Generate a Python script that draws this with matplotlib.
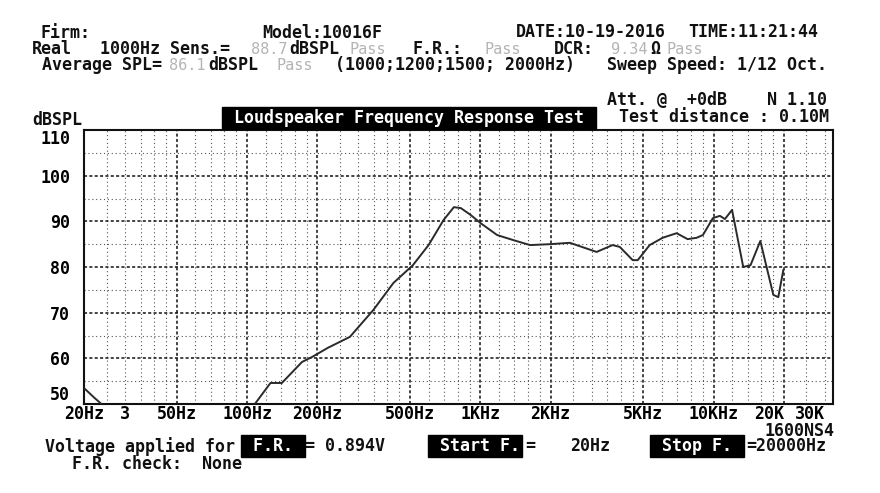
import numpy as np
import matplotlib.pyplot as plt

# frequency response (Hz, dBSPL)
freq = [20, 22, 24, 30, 40, 60, 80, 100, 108, 126, 141, 172, 190, 222, 276,
        348, 424, 514, 600, 696, 770, 825, 909, 1003, 1180, 1383, 1635, 1989,
        2420, 3150, 3690, 3960, 4500, 4730, 5320, 6050, 6940, 7740, 8460, 9000,
        9930, 10640, 11180, 12000, 13400, 14400, 15860, 18030, 18940, 19900]
spl = [53.5, 51.5, 49.8, 48.5, 48, 47.5, 47.5, 48.5, 50, 54.6, 54.6, 59.2,
       60.3, 62.3, 64.7, 70.6, 76.5, 80.4, 84.8, 90.3, 93.1, 92.9, 91.4, 89.6,
       87.0, 85.9, 84.8, 85.0, 85.3, 83.3, 84.8, 84.4, 81.5, 81.5, 84.8, 86.4,
       87.4, 86.1, 86.4, 87.0, 90.7, 91.2, 90.5, 92.5, 80.0, 80.4, 85.7, 73.9,
       73.4, 79.3]

xticks = [20, 30, 50, 100, 200, 500, 1000, 2000, 5000, 10000, 20000, 30000]
xlabels = ['20Hz', '3', '50Hz', '100Hz', '200Hz', '500Hz', '1KHz', '2KHz',
           '5KHz', '10KHz', '20K', '30K']
major_x = [50, 100, 200, 500, 1000, 2000, 5000, 10000, 20000]
minor_x = [25, 30, 35, 40, 45, 60, 70, 80, 90, 120, 140, 160, 180,
           250, 300, 350, 400, 450, 600, 700, 800, 900, 1200, 1400, 1600, 1800,
           2500, 3000, 3500, 4000, 4500, 6000, 7000, 8000, 9000,
           12000, 14000, 16000, 18000, 25000, 30000]
yticks = [50, 60, 70, 80, 90, 100, 110]

W, H = 880, 493
FONT = 'DejaVu Sans Mono'
GRAY = '#b4b4b4'
FS = 12

fig = plt.figure(figsize=(W / 100, H / 100), dpi=100)
ax = fig.add_axes([84 / W, 1 - 404 / H, (833 - 84) / W, (404 - 130) / H])

ax.set_xscale('log')
ax.set_xlim(20, 32500)
ax.set_ylim(50, 110)

for f in minor_x:
    ax.axvline(f, color='#555555', lw=0.8, ls=(0, (1, 2.5)), zorder=1)
for f in major_x:
    ax.axvline(f, color='#111111', lw=1.1, ls=(0, (2, 1.5)), zorder=1)
for v in range(55, 110, 10):
    ax.axhline(v, color='#555555', lw=0.8, ls=(0, (1, 2.5)), zorder=1)
for v in range(60, 110, 10):
    ax.axhline(v, color='#111111', lw=1.1, ls=(0, (2, 1.5)), zorder=1)

ax.plot(freq, spl, color='#2a2a2a', lw=1.4, zorder=3)

ax.set_xticks(xticks)
ax.set_xticklabels(xlabels)
ax.xaxis.set_minor_locator(plt.NullLocator())
ax.set_yticks(yticks)
ax.tick_params(length=0)
ax.tick_params(axis='x', pad=1)
ax.tick_params(axis='y', pad=10)
xlabs = ax.get_xticklabels()
ylabs = ax.get_yticklabels()
for lab in xlabs + ylabs:
    lab.set_family(FONT)
    lab.set_fontweight('bold')
    lab.set_fontsize(FS)
xlabs[-2].set_ha('right')
xlabs[-1].set_ha('right')
ylabs[0].set_va('bottom')
ylabs[-1].set_va('top')
for sp in ax.spines.values():
    sp.set_linewidth(1.5)
    sp.set_color('#111111')


def put(x, y, s, color='#111111', size=FS, ha='left', **kw):
    fig.text(x / W, 1 - y / H, s, color=color, fontsize=size,
             fontweight='bold', family=FONT, ha=ha, va='center', **kw)


def gray(x, y, s, ha='left'):
    fig.text(x / W, 1 - y / H, s, color=GRAY, fontsize=11,
             family=FONT, ha=ha, va='center')


def boxed(x, y, s):
    put(x, y, s, color='white',
        bbox=dict(facecolor='black', edgecolor='black', pad=1.5))


put(40, 33, 'Firm:')
put(262, 33, 'Model:10016F')
put(516, 32, 'DATE:10-19-2016')
put(688, 32, 'TIME:11:21:44')

put(32, 49, 'Real')
put(100, 49, '1000Hz Sens.=')
gray(287, 49, '88.7', ha='right')
put(289, 49, 'dBSPL')
gray(349, 49, 'Pass')
put(412, 49, 'F.R.:')
gray(484, 49, 'Pass')
put(554, 49, 'DCR:')
gray(648, 49, '9.34', ha='right')
put(650, 49, 'Ω')
gray(666, 49, 'Pass')

put(42, 65, 'Average SPL=')
gray(205, 65, '86.1', ha='right')
put(208, 65, 'dBSPL')
gray(276, 65, 'Pass')
put(335, 65, '(1000;1200;1500; 2000Hz)')
put(607, 65, 'Sweep Speed: 1/12 Oct.')

put(607, 100, 'Att. @  +0dB    N 1.10')
put(619, 117, 'Test distance : 0.10M')
put(32, 120, 'dBSPL')
boxed(224, 118, ' Loudspeaker Frequency Response Test ')

put(765, 431, '1600NS4')

put(45, 447, 'Voltage applied for')
boxed(243, 446, ' F.R. ')
put(305, 446, '= 0.894V')
boxed(430, 446, ' Start F.')
put(525, 446, '=')
put(570, 446, '20Hz')
boxed(652, 446, ' Stop F. ')
put(746, 446, '=20000Hz')
put(72, 464, 'F.R. check:  None')

fig.savefig('out.png', dpi=100, facecolor='white')
